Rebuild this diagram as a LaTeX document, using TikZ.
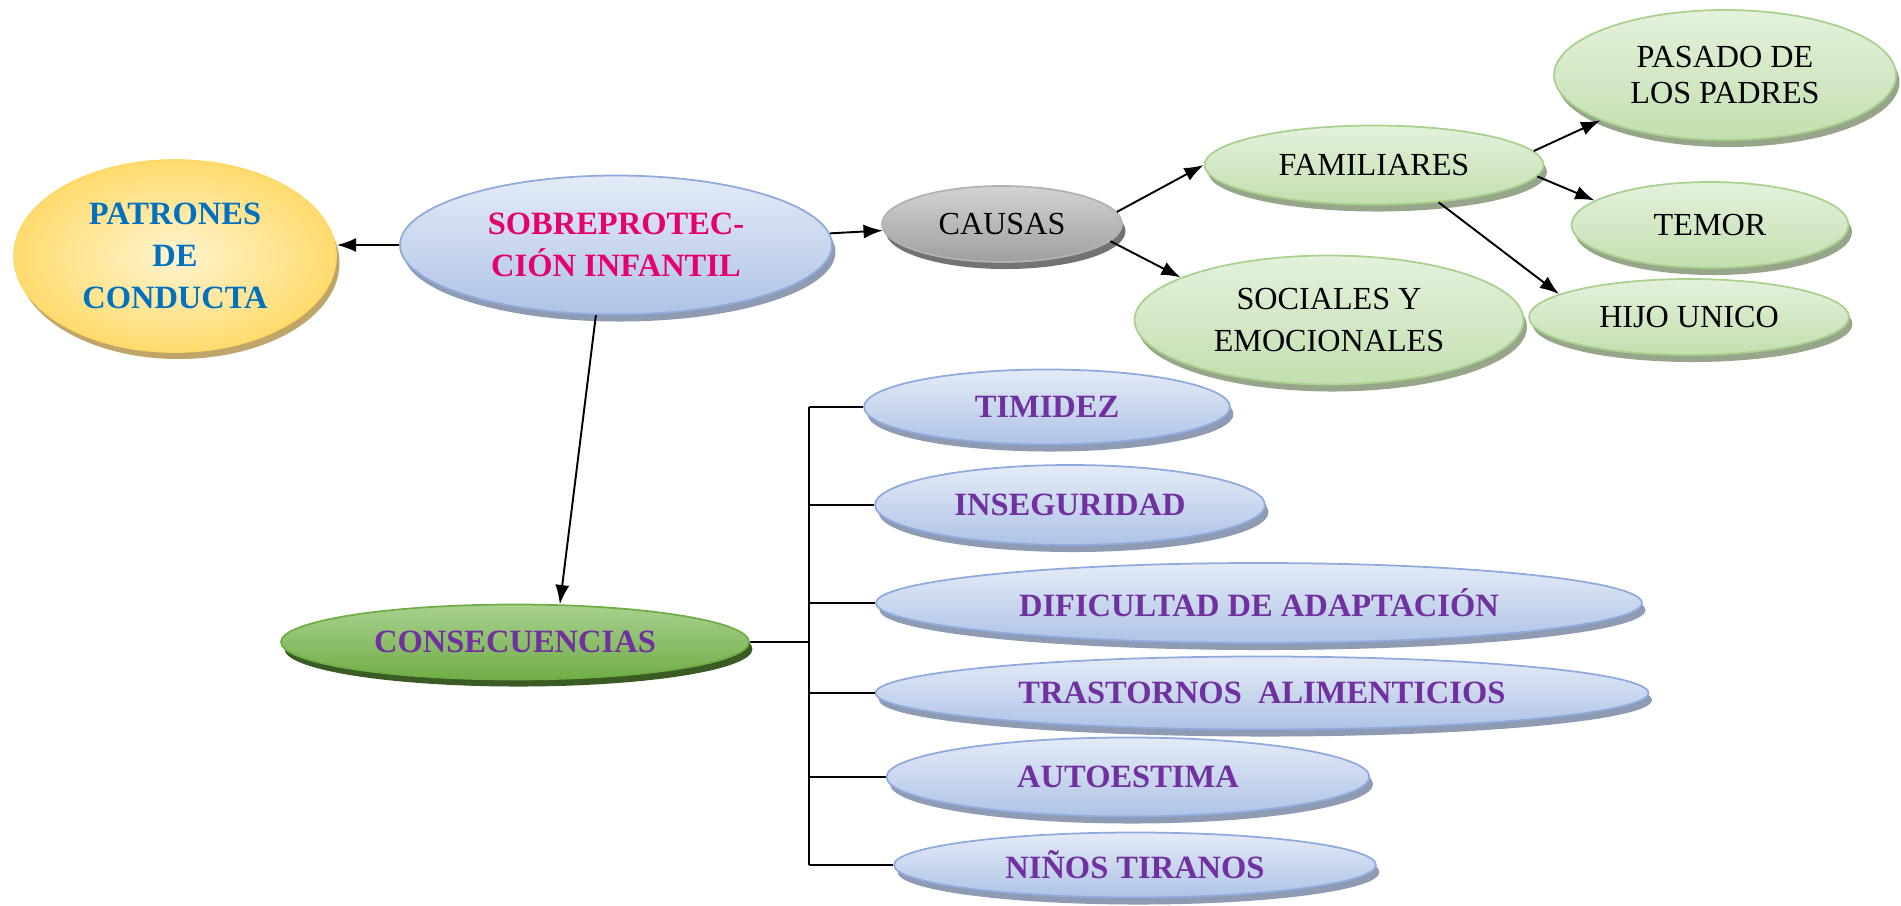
\documentclass[tikz,border=0pt]{standalone}
\usepackage{fontspec}
\setmainfont{Liberation Serif}
\usetikzlibrary{shapes.geometric,shadows,arrows.meta}

\definecolor{rosa}{HTML}{E6006E}
\definecolor{azulTexto}{HTML}{0070C0}
\definecolor{morado}{HTML}{7030A0}
\definecolor{bordeAzul}{HTML}{8FAADC}
\definecolor{claroAzul}{HTML}{E4EBF7}
\definecolor{fondoAzul}{HTML}{AFC3E6}
\definecolor{sombraAzul}{HTML}{8E9BB2}
\definecolor{bordeVerde}{HTML}{A9D18E}
\definecolor{claroVerde}{HTML}{E4F1DC}
\definecolor{fondoVerde}{HTML}{C3DFB0}
\definecolor{sombraVerde}{HTML}{97A68B}
\definecolor{verdeOscuro}{HTML}{70AD47}
\definecolor{sombraOscura}{HTML}{3B5B25}
\definecolor{bordeAmarillo}{HTML}{FFD966}
\definecolor{claroAmarillo}{HTML}{FFF4CF}
\definecolor{fondoAmarillo}{HTML}{FFDB6E}
\definecolor{sombraAmarilla}{HTML}{BFA56A}

\begin{document}
\begin{tikzpicture}[x=0.02cm,y=-0.02cm,
  elipse/.style={ellipse,inner sep=0pt,line width=1pt,align=center,
    font=\fontsize{18.3}{24}\selectfont},
  negrita/.style={font=\fontsize{18.5}{24}\selectfont\bfseries},
  amarilla/.style={elipse,negrita,draw=bordeAmarillo,inner color=claroAmarillo,outer color=fondoAmarillo,
    drop shadow={shadow xshift=2pt,shadow yshift=-4pt,fill=sombraAmarilla,opacity=1},
    text=azulTexto},
  azul/.style={elipse,negrita,draw=bordeAzul,top color=claroAzul,bottom color=fondoAzul,
    drop shadow={shadow xshift=2pt,shadow yshift=-4pt,fill=sombraAzul,opacity=1},
    text=morado},
  verde/.style={elipse,draw=bordeVerde,top color=claroVerde,bottom color=fondoVerde,
    drop shadow={shadow xshift=2pt,shadow yshift=-4pt,fill=sombraVerde,opacity=1}},
  gris/.style={elipse,draw=gray!60,top color=gray!35,bottom color=gray!75,
    drop shadow={shadow xshift=2pt,shadow yshift=-4pt,fill=gray!90!black,opacity=1}},
  oscura/.style={elipse,negrita,draw=verdeOscuro,top color=bordeVerde,bottom color=verdeOscuro,
    drop shadow={shadow xshift=2pt,shadow yshift=-4pt,fill=sombraOscura,opacity=1},
    text=morado},
  flecha/.style={-{Latex[length=11pt,width=8pt]},line width=1.1pt},
  linea/.style={line width=1.1pt}]
\useasboundingbox (0,0) rectangle (1901,906);
% 中心
\node[azul,text=rosa,minimum width=8.64cm,minimum height=2.78cm] (sob) at (616,245) {SOBREPROTEC-\\CIÓN INFANTIL};
\node[amarilla,minimum width=6.44cm,minimum height=3.84cm] (pat) at (175,256) {PATRONES\\DE\\CONDUCTA};
% 原因
\node[gris,minimum width=4.8cm,minimum height=1.52cm] (cau) at (1002,224) {CAUSAS};
\node[verde,minimum width=6.78cm,minimum height=1.58cm] (fam) at (1374,165) {FAMILIARES};
\node[verde,minimum width=7.78cm,minimum height=2.58cm] (soc) at (1329,320) {SOCIALES Y\\EMOCIONALES};
\node[verde,minimum width=6.84cm,minimum height=2.6cm,font=\fontsize{18.3}{21}\selectfont] (pas) at (1725,75) {PASADO DE\\LOS PADRES};
\node[verde,minimum width=5.54cm,minimum height=1.72cm] (tem) at (1710,225) {TEMOR};
\node[verde,minimum width=6.4cm,minimum height=1.52cm] (hij) at (1689,317) {HIJO UNICO};
% 后果
\node[oscura,minimum width=9.36cm,minimum height=1.5cm] (con) at (515,642) {CONSECUENCIAS};
\node[azul,minimum width=7.32cm,minimum height=1.5cm] (tim) at (1047,407) {TIMIDEZ};
\node[azul,minimum width=7.8cm,minimum height=1.6cm] (ins) at (1070,505) {INSEGURIDAD};
\node[azul,minimum width=15.32cm,minimum height=1.6cm] (dif) at (1259,603) {DIFICULTAD DE ADAPTACIÓN};
\node[azul,minimum width=15.46cm,minimum height=1.46cm] (tra) at (1262,693) {TRASTORNOS\ \ ALIMENTICIOS};
\node[azul,minimum width=9.66cm,minimum height=1.58cm] (aut) at (1128,777) {AUTOESTIMA};
\node[azul,minimum width=9.64cm,minimum height=1.3cm] (nin) at (1135,865) {NIÑOS TIRANOS};
% 箭头
\draw[flecha] (sob.west) -- (sob.west -| pat.east);
\draw[flecha] (sob) -- (cau);
\draw[flecha] (cau.6) -- (fam.west);
\draw[flecha] (cau.-9) -- (soc.164);
\draw[flecha] (fam.5) -- (pas.200);
\draw[flecha] (fam.-4) -- (tem.168);
\draw[flecha] (fam.-30) -- (hij.170);
\draw[flecha] (sob.-106) -- (con.40);
% 括号
\coordinate (brk) at (809,642);
\draw[linea] (con.east) -- (brk);
\draw[linea] (brk |- tim.west) -- (brk |- nin.west);
\foreach \n in {tim,ins,dif,tra,aut,nin}
  \draw[linea] (brk |- \n.west) -- (\n.west);
\end{tikzpicture}
\end{document}
